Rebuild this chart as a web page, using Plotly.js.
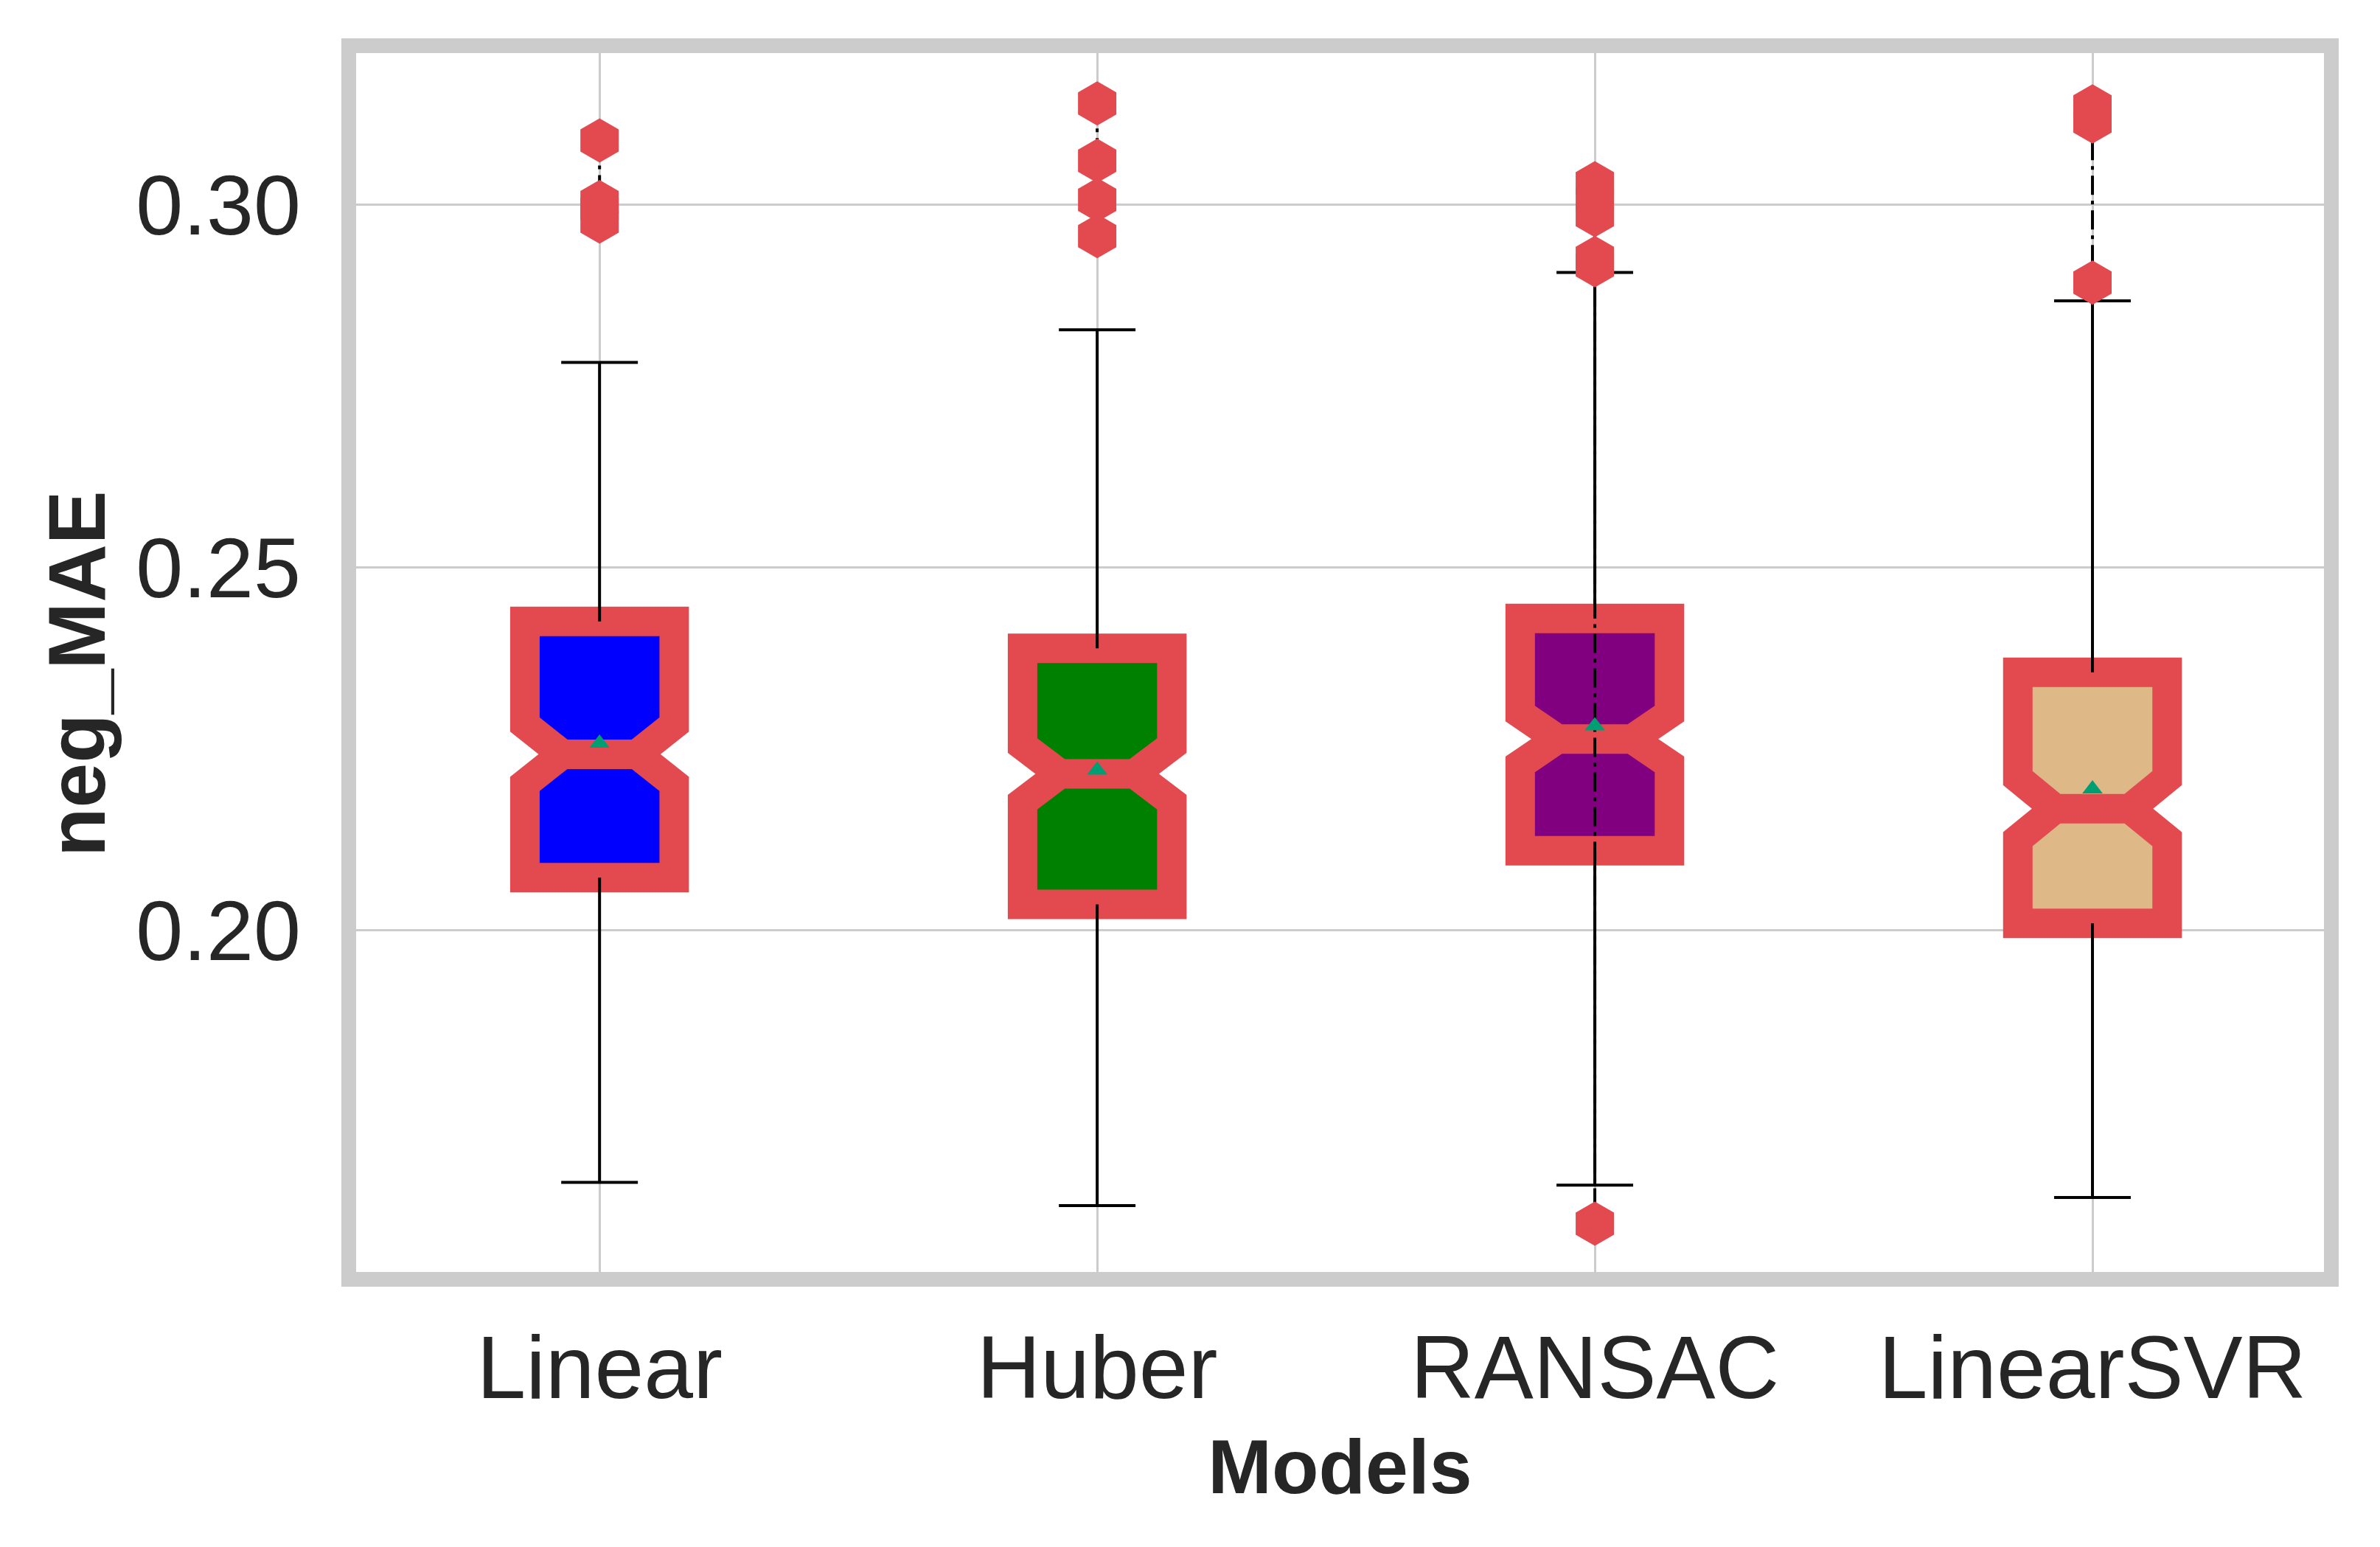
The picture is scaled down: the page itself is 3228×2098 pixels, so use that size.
<!DOCTYPE html>
<html>
<head>
<meta charset="utf-8">
<script src="https://cdn.plot.ly/plotly-3.0.1.min.js"></script>
<style>html,body{margin:0;padding:0;background:#fff;}#chart{width:3228px;height:2098px;}</style>
</head>
<body>
<div id="chart"></div>
<script>
// ---- data ----
const categories = ['Linear', 'Huber', 'RANSAC', 'LinearSVR'];
const q1Values = [0.2073, 0.2036, 0.2110, 0.2010];
const medianValues = [0.2243, 0.2216, 0.2264, 0.2168];
const q3Values = [0.2426, 0.2389, 0.2430, 0.2356];
const notchSpans = [0.0041, 0.0039, 0.0035, 0.0042];
const meanValues = [0.2258, 0.2221, 0.2282, 0.2195];
const lowerWhiskers = [0.1653, 0.1621, 0.1649, 0.1632];
const upperWhiskers = [0.2783, 0.2828, 0.2907, 0.2868];
const fliersLinear = [0.3089, 0.3004, 0.2995, 0.2977];
const fliersHuber = [0.3140, 0.3061, 0.3007, 0.2957];
const fliersRANSAC = [0.3030, 0.3008, 0.2986, 0.2927, 0.2917, 0.1596];
const fliersLinearSVR = [0.3136, 0.3115, 0.2893];
const fillColors = ['#0000ff', '#008000', '#800080', '#deb887'];
const xTitle = 'Models';
const yTitle = 'neg_MAE';

// ---- styles ----
const RED = '#e24a50';
const FONT = 'Liberation Sans, Arial, sans-serif';
const TEXT = '#262626';
const capHalf = 0.077;

const positions = categories.map((c, i) => i);
const traces = [];

// boxes (notched, red thick outline)
categories.forEach((c, i) => {
  traces.push({
    type: 'box', x: [positions[i]],
    q1: [q1Values[i]], median: [medianValues[i]], q3: [q3Values[i]],
    lowerfence: [q1Values[i]], upperfence: [q3Values[i]],
    notchspan: [notchSpans[i]], notched: true, notchwidth: 0.25,
    width: 0.3, whiskerwidth: 0, boxpoints: false,
    fillcolor: fillColors[i], line: {color: RED, width: 40},
    hoverinfo: 'skip', showlegend: false
  });
});

// whiskers + caps
const wx = [], wy = [];
categories.forEach((c, i) => {
  const p = positions[i];
  wx.push(p, p, null, p - capHalf, p + capHalf, null, p, p, null, p - capHalf, p + capHalf, null);
  wy.push(q3Values[i], upperWhiskers[i], null, upperWhiskers[i], upperWhiskers[i], null,
          q1Values[i], lowerWhiskers[i], null, lowerWhiskers[i], lowerWhiskers[i], null);
});
traces.push({type: 'scatter', mode: 'lines', x: wx, y: wy, line: {color: '#000000', width: 4},
  hoverinfo: 'skip', showlegend: false, connectgaps: false});

// fliers (hexagons joined by dash-dot line)
const allFliers = [fliersLinear, fliersHuber, fliersRANSAC, fliersLinearSVR];
allFliers.forEach((f, i) => {
  traces.push({type: 'scatter', mode: 'lines+markers', x: f.map(() => positions[i]), y: f,
    line: {color: '#000000', width: 4, dash: '26px,8px,5px,8px'},
    marker: {symbol: 'hexagon', size: 60, color: RED, line: {width: 0}},
    hoverinfo: 'skip', showlegend: false});
});

// means
traces.push({type: 'scatter', mode: 'markers', x: positions, y: meanValues,
  marker: {symbol: 'triangle-up', size: 24, color: '#029e73', line: {width: 0}},
  hoverinfo: 'skip', showlegend: false});

const layout = {
  width: 3228, height: 2098,
  paper_bgcolor: '#ffffff', plot_bgcolor: '#ffffff',
  margin: {l: 473, r: 66, t: 62, b: 363, pad: 0},
  showlegend: false, boxmode: 'overlay',
  font: {family: FONT, color: TEXT},
  xaxis: {
    range: [-0.504, 3.48], tickmode: 'array', tickvals: positions, ticktext: categories,
    showgrid: true, gridcolor: '#cccccc', gridwidth: 3, zeroline: false, showline: false,
    ticks: '', ticklabelstandoff: 40,
    tickfont: {family: FONT, size: 120, color: TEXT},
    title: {text: '<b>' + xTitle + '</b>', font: {family: FONT, size: 104, color: TEXT}, standoff: 32}
  },
  yaxis: {
    range: [0.15193, 0.32195], tick0: 0, dtick: 0.05, tickformat: '.2f',
    showgrid: true, gridcolor: '#cccccc', gridwidth: 3, zeroline: false, showline: false,
    ticks: '', ticklabelstandoff: 64,
    tickfont: {family: FONT, size: 115, color: TEXT}
  },
  annotations: [{
    text: '<b>' + yTitle + '</b>', textangle: -90, showarrow: false,
    xref: 'paper', yref: 'paper', x: 0, y: 0.4907, xanchor: 'center', yanchor: 'middle',
    xshift: -369, font: {family: FONT, size: 109, color: TEXT}
  }],
  shapes: [{type: 'rect', xref: 'paper', yref: 'paper', x0: 0, x1: 1, y0: 0, y1: 1,
    line: {color: '#cccccc', width: 20}, fillcolor: 'rgba(0,0,0,0)', layer: 'above'}]
};

Plotly.newPlot('chart', traces, layout, {displayModeBar: false, staticPlot: true});
</script>
</body>
</html>
